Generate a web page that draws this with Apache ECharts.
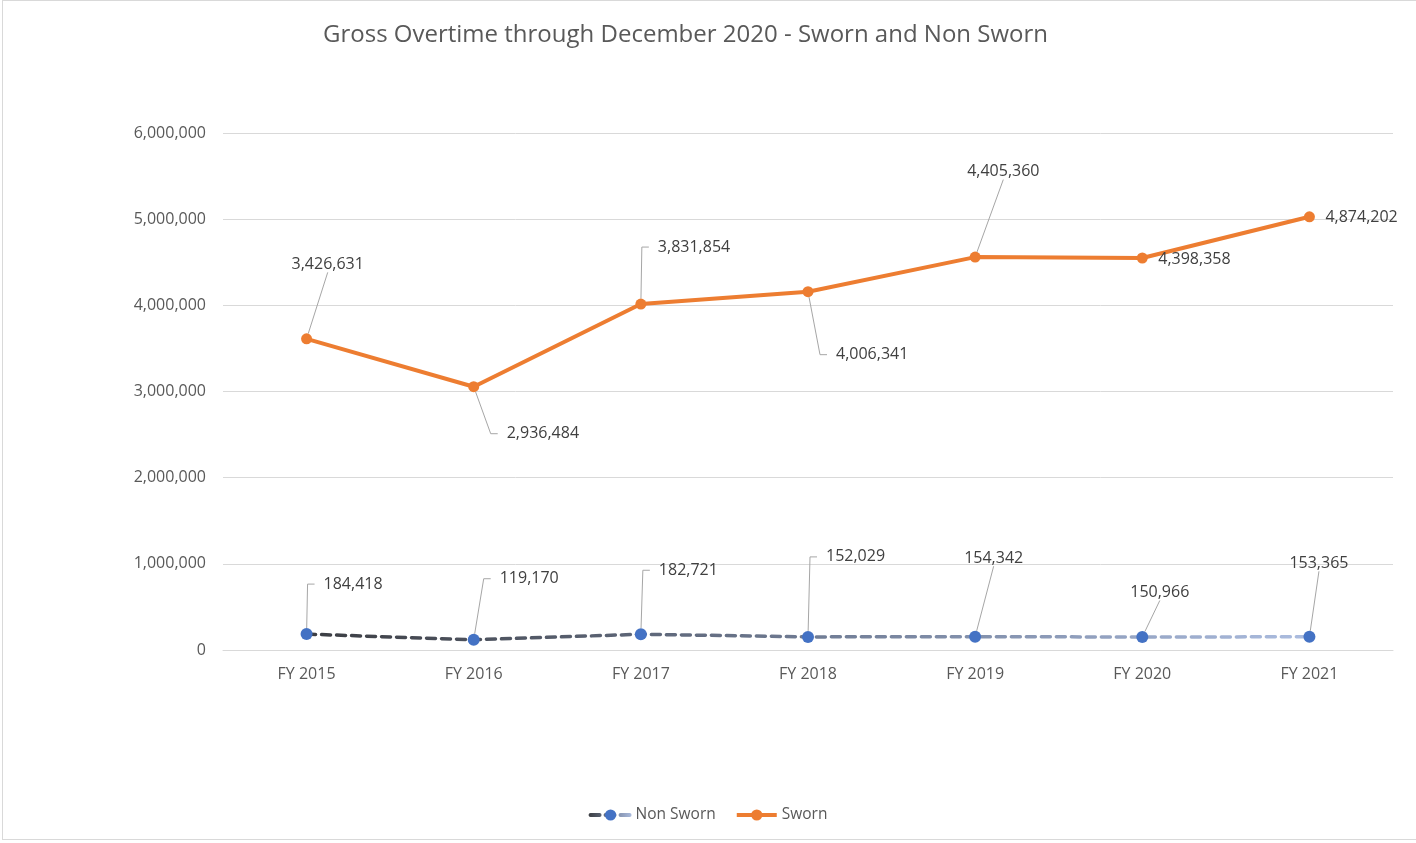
<!DOCTYPE html>
<html>
<head>
<meta charset="utf-8">
<script src="https://cdn.jsdelivr.net/npm/echarts@6/dist/echarts.min.js"></script>
<style>
html,body{margin:0;padding:0;background:#fff;}
#chart{position:absolute;left:0;top:0;width:1416px;height:843px;}
#frame{position:absolute;left:2px;top:0;width:1420px;height:840px;border:1px solid #d9d9d9;box-sizing:border-box;pointer-events:none;}
</style>
</head>
<body>
<div id="chart"></div>
<div id="frame"></div>
<script>
// ---- data ----
const categories = ['FY 2015', 'FY 2016', 'FY 2017', 'FY 2018', 'FY 2019', 'FY 2020', 'FY 2021'];
const nonSworn = [184418, 119170, 182721, 152029, 154342, 150966, 153365];
const sworn = [3426631, 2936484, 3831854, 4006341, 4405360, 4398358, 4874202];
const yMin = 0, yMax = 6000000, yInterval = 1000000;
const titleText = 'Gross Overtime through December 2020 - Sworn and Non Sworn';

// ---- label placement styles (text-left / text-middle offset from the point centre) ----
const swornLabelOffset = [[-15, -77], [33, 47], [17, -57], [28, 63], [-8, -88], [16, 1], [16, 1]];
const swornLeader = ['above', 'side', 'side', 'side', 'above', 'none', 'none'];
const nonSwornLabelOffset = [[17, -50], [26, -61], [18, -64], [18, -80], [-11, -81], [-12, -47], [-20, -76]];
const nonSwornLeader = ['side', 'side', 'side', 'side', 'above', 'above', 'above'];

// padding: [top, right, bottom, left]
const PADS = { side: [0, 30, 0, 9], above: [0, 0, 5, 0], none: [0, 0, 0, 0] };
const LEN2 = { side: 7, above: 0, none: 0 };

const FONT = 'Open Sans';
const fmt = v => Number(v).toLocaleString('en-US');

function buildData(values, leaders) {
  return values.map((v, i) => ({
    value: v,
    label: { padding: PADS[leaders[i]] },
    labelLine: { show: leaders[i] !== 'none', length2: LEN2[leaders[i]] }
  }));
}

function makeLayout(offsets, leaders) {
  return function (p) {
    const o = offsets[p.dataIndex];
    const pad = PADS[leaders[p.dataIndex]];
    const cx = p.rect.x + p.rect.width / 2;
    const cy = p.rect.y + p.rect.height / 2;
    return {
      x: cx + o[0] - pad[3],
      y: cy + o[1] + (pad[2] - pad[0]) / 2,
      align: 'left',
      verticalAlign: 'middle'
    };
  };
}

const labelCommon = {
  show: true,
  color: '#404040',
  fontSize: 16,
  lineHeight: 10,
  fontFamily: FONT,
  backgroundColor: 'rgba(255,255,255,0)',
  formatter: p => fmt(p.value)
};
const labelLineCommon = { show: true, lineStyle: { color: '#a6a6a6', width: 1 } };

const chart = echarts.init(document.getElementById('chart'), null, { renderer: 'canvas' });
chart.setOption({
  animation: false,
  backgroundColor: '#ffffff',
  title: {
    text: titleText,
    left: 323,
    top: 20,
    padding: 0,
    textStyle: { fontSize: 24, fontWeight: 'normal', color: '#595959', fontFamily: FONT, lineHeight: 30 }
  },
  legend: {
    data: ['Non Sworn', 'Sworn'],
    left: 'center',
    top: 802,
    itemWidth: 40,
    itemHeight: 14,
    itemGap: 19,
    lineStyle: { width: 4 },
    textStyle: { color: '#595959', fontSize: 15.5, fontFamily: FONT }
  },
  grid: { left: 223, right: 23, top: 133, bottom: 193, containLabel: false, outerBoundsMode: 'none' },
  xAxis: {
    type: 'category',
    data: categories,
    boundaryGap: true,
    axisLine: { show: true, lineStyle: { color: '#d9d9d9', width: 1 } },
    axisTick: { show: false },
    axisLabel: { color: '#595959', fontSize: 16, fontFamily: FONT, margin: 16 },
    splitLine: { show: false }
  },
  yAxis: {
    type: 'value',
    min: yMin,
    max: yMax,
    interval: yInterval,
    axisLine: { show: false },
    axisTick: { show: false },
    axisLabel: { color: '#595959', fontSize: 16, fontFamily: FONT, margin: 17, formatter: v => fmt(v) },
    splitLine: { show: true, lineStyle: { color: '#d9d9d9', width: 1 } }
  },
  series: [
    {
      name: 'Non Sworn',
      type: 'line',
      stack: 'total',
      data: buildData(nonSworn, nonSwornLeader),
      symbol: 'circle',
      symbolSize: 12,
      showSymbol: true,
      itemStyle: { color: '#4472C4' },
      lineStyle: {
        width: 3.5,
        type: [9, 6],
        cap: 'round',
        color: new echarts.graphic.LinearGradient(0, 0, 1, 0, [
          { offset: 0, color: '#3b3d42' },
          { offset: 0.5, color: '#6f7b93' },
          { offset: 1, color: '#acbde0' }
        ])
      },
      label: labelCommon,
      labelLine: labelLineCommon,
      labelLayout: makeLayout(nonSwornLabelOffset, nonSwornLeader),
      z: 3
    },
    {
      name: 'Sworn',
      type: 'line',
      stack: 'total',
      data: buildData(sworn, swornLeader),
      symbol: 'circle',
      symbolSize: 11,
      showSymbol: true,
      itemStyle: { color: '#ED7D31' },
      lineStyle: { width: 4, color: '#ED7D31' },
      label: labelCommon,
      labelLine: labelLineCommon,
      labelLayout: makeLayout(swornLabelOffset, swornLeader),
      z: 2
    }
  ]
});
</script>
</body>
</html>
